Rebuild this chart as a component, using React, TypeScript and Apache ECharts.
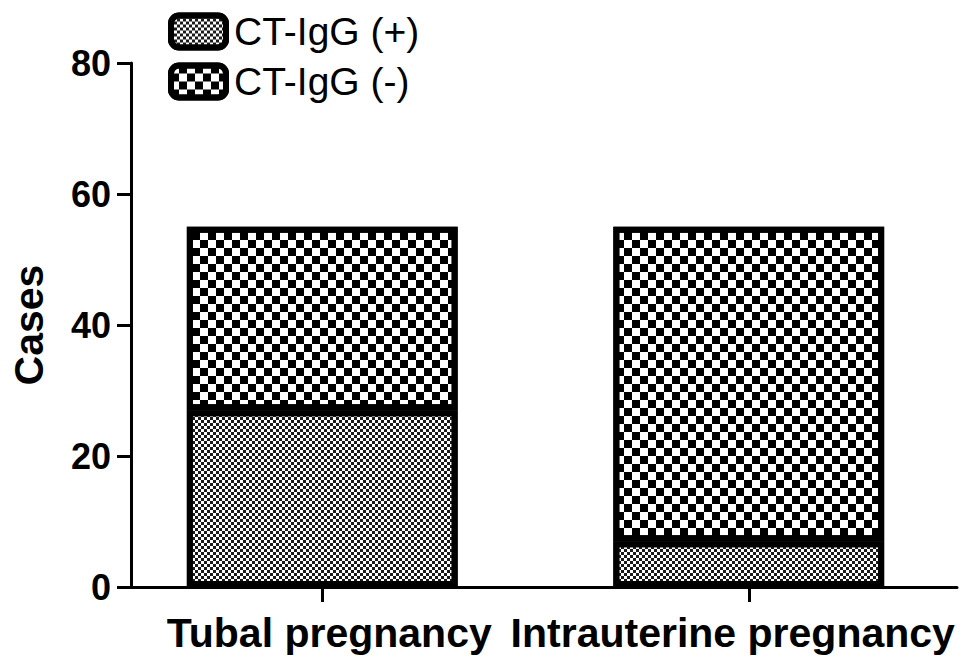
import React, { useEffect, useRef } from "react";
import * as echarts from "echarts";

const categories = ["Tubal pregnancy", "Intrauterine pregnancy"];
const positiveCases = [27, 7];
const negativeCases = [28, 48];
const yTicks = { min: 0, max: 80, interval: 20 };
const seriesNames = ["CT-IgG (+)", "CT-IgG (-)"];

const FONT = "'Liberation Sans', Arial, Helvetica, sans-serif";
// horizontal nudges of the category labels, as in the source figure
const labelPadding = [
  [0, 0, 0, 14],
  [0, 32, 0, 0],
];

export default function App() {
  const ref = useRef<HTMLDivElement>(null);
  useEffect(() => {
    if (!ref.current) return;
    document.body.style.margin = "0";
    const chart = echarts.init(ref.current, undefined, { renderer: "svg" });
    const fineDecal = {
      symbol: "rect",
      symbolSize: 1,
      color: "#1a1a1a",
      backgroundColor: "#ffffff",
      dashArrayX: [[3, 3], [0, 3, 3, 0]],
      dashArrayY: [3, 0],
      rotation: 0,
    };
    const coarseDecal = {
      symbol: "rect",
      symbolSize: 1,
      color: "#000000",
      backgroundColor: "#ffffff",
      dashArrayX: [[8, 8], [0, 8, 8, 0]],
      dashArrayY: [8, 0],
      rotation: 0,
    };
    chart.setOption({
      animation: false,
      backgroundColor: "#ffffff",
      textStyle: { fontFamily: FONT },
      legend: {
        orient: "vertical",
        left: 168,
        top: 12,
        padding: 0,
        itemWidth: 55,
        itemHeight: 32,
        itemGap: 11,
        icon: "roundRect",
        data: seriesNames,
        itemStyle: { borderWidth: 6, borderColor: "#000" },
        textStyle: {
          fontSize: 39,
          color: "#000",
          fontFamily: FONT,
          padding: [0, 0, 0, 3],
        },
      },
      grid: [
        { left: 109, right: 7, top: 63, bottom: 82 },
        { left: 128, right: 12, top: 63, bottom: 82 },
      ],
      xAxis: [
        {
          type: "category",
          gridIndex: 0,
          data: categories.map((c, i) => ({
            value: c,
            textStyle: { padding: labelPadding[i] },
          })),
          axisLine: { show: false },
          axisTick: {
            show: true,
            alignWithLabel: true,
            length: 15,
            lineStyle: { color: "#000", width: 3 },
          },
          axisLabel: {
            interval: 0,
            margin: 25,
            fontSize: 41,
            fontWeight: "bold",
            color: "#000",
            fontFamily: FONT,
          },
        },
        {
          type: "category",
          gridIndex: 1,
          data: categories,
          axisLine: { show: true, lineStyle: { color: "#000", width: 3 } },
          axisTick: { show: false },
          axisLabel: { show: false },
        },
      ],
      yAxis: [
        {
          type: "value",
          gridIndex: 0,
          min: yTicks.min,
          max: yTicks.max,
          interval: yTicks.interval,
          show: false,
        },
        {
          type: "value",
          gridIndex: 1,
          min: yTicks.min,
          max: yTicks.max,
          interval: yTicks.interval,
          name: "Cases",
          nameLocation: "middle",
          nameGap: 82,
          nameTextStyle: {
            fontSize: 41,
            fontWeight: "bold",
            color: "#000",
            fontFamily: FONT,
          },
          axisLine: { show: true, lineStyle: { color: "#000", width: 3 } },
          axisTick: {
            show: true,
            length: 14,
            lineStyle: { color: "#000", width: 3 },
          },
          axisLabel: {
            margin: 20,
            fontSize: 36,
            fontWeight: "bold",
            color: "#000",
            fontFamily: FONT,
          },
          splitLine: { show: false },
        },
      ],
      series: [
        {
          name: seriesNames[0],
          type: "bar",
          stack: "total",
          xAxisIndex: 0,
          yAxisIndex: 0,
          barWidth: "63.5%",
          data: positiveCases,
          itemStyle: {
            color: "#ffffff",
            borderColor: "#000",
            borderWidth: 6,
            decal: fineDecal,
          },
        },
        {
          name: seriesNames[1],
          type: "bar",
          stack: "total",
          xAxisIndex: 0,
          yAxisIndex: 0,
          barWidth: "63.5%",
          data: negativeCases,
          itemStyle: {
            color: "#ffffff",
            borderColor: "#000",
            borderWidth: 6,
            decal: coarseDecal,
          },
        },
      ],
    });
    return () => chart.dispose();
  }, []);
  return <div ref={ref} style={{ width: 969, height: 669 }} />;
}
